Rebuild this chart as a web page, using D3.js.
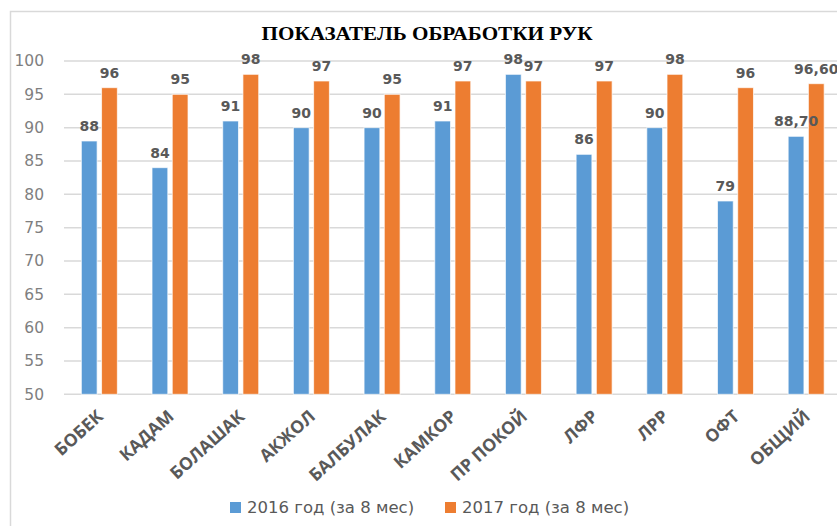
<!DOCTYPE html>
<html><head><meta charset="utf-8">
<script src="https://cdn.jsdelivr.net/npm/d3@7"></script>
<style>body{margin:0;background:#fff}svg{display:block}</style>
</head><body>
<script>
const categories = ["БОБЕК","КАДАМ","БОЛАШАК","АКЖОЛ","БАЛБУЛАК","КАМКОР","ПР ПОКОЙ","ЛФР","ЛРР","ОФТ","ОБЩИЙ"];
const series = ["2016 год (за 8 мес)","2017 год (за 8 мес)"];
const values2016 = [88,84,91,90,90,91,98,86,90,79,88.70];
const values2017 = [96,95,98,97,95,97,97,97,98,96,96.60];
const yTicks = [50,55,60,65,70,75,80,85,90,95,100];
const colors = ["#5b9bd5","#ed7d31"];
const title = "ПОКАЗАТЕЛЬ ОБРАБОТКИ РУК";

const W = 837, H = 526;
const svg = d3.select("body").append("svg").attr("width",W).attr("height",H);

svg.append("rect").attr("x",10.5).attr("y",11.5).attr("width",W+20).attr("height",H+20)
  .attr("fill","#fff").attr("stroke","#d9d9d9").attr("stroke-width",1.5);

const x0 = d3.scaleBand().domain(categories).range([64,841.5]).padding(0);
const y = d3.scaleLinear().domain([50,100]).range([394.3,61]);
const x1 = d3.scaleBand().domain(series).range([x0.bandwidth()/2-18, x0.bandwidth()/2+18]).paddingInner(0.22);

svg.append("g").selectAll("line").data(yTicks).join("line")
  .attr("x1",64).attr("x2",W).attr("y1",d=>y(d)).attr("y2",d=>y(d))
  .attr("stroke","#d9d9d9").attr("stroke-width",1.5);

const yAxis = d3.axisLeft(y).tickValues(yTicks).tickSize(0).tickPadding(0);
const ya = svg.append("g").attr("transform","translate(44,0)").call(yAxis);
ya.select(".domain").remove();
ya.selectAll("text").attr("font-family","DejaVu Sans").attr("font-size",15.5).attr("fill","#7f7f7f");

const data = categories.map((c,i)=>({c, vals:[values2016[i], values2017[i]]}));
const fmt = v => Number.isInteger(v) ? String(v) : v.toFixed(2).replace(".",",");

const g = svg.append("g").selectAll("g").data(data).join("g")
  .attr("transform",d=>`translate(${x0(d.c)},0)`);
g.selectAll("rect").data(d=>d.vals.map((v,j)=>({v,s:series[j],j}))).join("rect")
  .attr("x",d=>x1(d.s)).attr("width",x1.bandwidth())
  .attr("y",d=>y(d.v)).attr("height",d=>y(50)-y(d.v))
  .attr("fill",d=>colors[d.j]).attr("stroke","rgba(255,255,255,0.7)").attr("stroke-width",1);
g.selectAll("text").data(d=>d.vals.map((v,j)=>({v,s:series[j],j}))).join("text")
  .attr("x",d=>x1(d.s)+x1.bandwidth()/2).attr("y",d=>y(d.v)-10)
  .attr("text-anchor","middle").attr("font-family","DejaVu Sans").attr("font-weight","bold")
  .attr("font-size",14).attr("fill","#595959").text(d=>fmt(d.v));

svg.append("g").selectAll("text").data(categories).join("text")
  .attr("transform",d=>`translate(${x0(d)+x0.bandwidth()/2+5},418) rotate(-42)`)
  .attr("text-anchor","end").attr("font-family","Open Sans").attr("font-weight","bold")
  .attr("font-size",17.5).attr("fill","#595959").text(d=>d);

svg.append("text").attr("x",427).attr("y",40).attr("text-anchor","middle")
  .attr("font-family","Liberation Serif").attr("font-weight","bold").attr("font-size",19)
  .attr("textLength",331).attr("lengthAdjust","spacingAndGlyphs")
  .attr("fill","#000").text(title);

const legX = [230,445];
const lg = svg.append("g").selectAll("g").data(series).join("g")
  .attr("transform",(d,i)=>`translate(${legX[i]},502)`);
lg.append("rect").attr("width",11).attr("height",11).attr("fill",(d,i)=>colors[i]);
lg.append("text").attr("x",17).attr("y",11).attr("font-family","DejaVu Sans").attr("font-size",16.5)
  .attr("fill","#595959").text(d=>d);
</script>
</body></html>
